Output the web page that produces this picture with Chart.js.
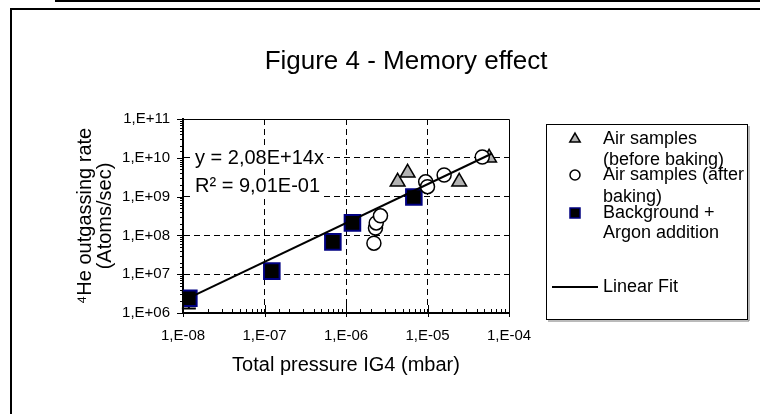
<!DOCTYPE html>
<html>
<head>
<meta charset="utf-8">
<script src="https://cdn.jsdelivr.net/npm/chart.js@4.4.0/dist/chart.umd.min.js"></script>
<style>
  body { margin: 0; background: #fff; }
  #wrap { width: 760px; height: 414px; }
</style>
</head>
<body>
<div id="wrap"><canvas id="myChart" width="760" height="414"></canvas></div>
<script>
// Valores (escala log en ambos ejes)
const chartTitle = 'Figure 4 - Memory effect';
const xTitle = 'Total pressure IG4 (mbar)';
const yTitle = ['\u2074He outgassing rate', '(Atoms/sec)'];

const airBeforeX = [4.3e-6, 5.7e-6, 2.45e-5, 5.7e-5];
const airBeforeY = [2.4e9, 4.1e9, 2.4e9, 1.0e10];

const airAfterX = [2.2e-6, 2.3e-6, 2.35e-6, 2.65e-6, 9.5e-6, 1.0e-5, 1.6e-5, 4.7e-5];
const airAfterY = [6.3e7, 1.55e8, 2.1e8, 3.2e8, 2.4e9, 1.8e9, 3.6e9, 1.05e10];

const bgX = [1.18e-8, 1.23e-7, 6.9e-7, 1.2e-6, 6.8e-6];
const bgY = [2.4e6, 1.2e7, 6.8e7, 2.1e8, 9.8e8];
const bgErrLow = [1.3e6, null, null, null, null];
const bgErrHigh = [3.5e6, null, null, null, null];

// Linea de ajuste: y = 2,08E+14x
const fitX = [1.2e-8, 6.2e-5];
const fitY = [2.5e6, 1.29e10];
const fitText = ['y = 2,08E+14x', 'R\u00b2 = 9,01E-01'];

const legendLabels = [
    ['Air samples', '(before baking)'],
    ['Air samples (after', 'baking)'],
    ['Background +', 'Argon addition'],
    ['Linear Fit']
];

const FONT = '"Liberation Sans", Arial, sans-serif';
Chart.defaults.font.family = FONT;
Chart.defaults.color = '#000';

function toPoints(xs, ys) {
    return xs.map((x, i) => ({ x: x, y: ys[i] }));
}

function isDecade(v) {
    const l = Math.log10(v);
    return Math.abs(l - Math.round(l)) < 1e-6;
}

function sciLabel(v) {
    const e = Math.round(Math.log10(v));
    return '1,E' + (e < 0 ? '-' : '+') + String(Math.abs(e)).padStart(2, '0');
}

function gridColor(ctx) {
    const scale = ctx.scale;
    const v = ctx.tick && ctx.tick.value;
    if (v === undefined || !isDecade(v)) return 'rgba(0,0,0,0)';
    if (Math.abs(v - scale.min) / scale.min < 1e-6 || Math.abs(v - scale.max) / scale.max < 1e-6) return 'rgba(0,0,0,0)';
    return '#000';
}

// dibuja un marcador pequeño para la leyenda
function drawMarker(ctx, style, x, y) {
    ctx.save();
    if (style === 'triangle') {
        const r = 6;
        ctx.beginPath();
        ctx.moveTo(x, y - r);
        ctx.lineTo(x + r * Math.sin(2 * Math.PI / 3), y + r / 2);
        ctx.lineTo(x - r * Math.sin(2 * Math.PI / 3), y + r / 2);
        ctx.closePath();
        ctx.fillStyle = '#b2b2b2';
        ctx.fill();
        ctx.lineWidth = 1.5;
        ctx.strokeStyle = '#000';
        ctx.stroke();
    } else if (style === 'circle') {
        ctx.beginPath();
        ctx.arc(x, y, 5, 0, Math.PI * 2);
        ctx.fillStyle = '#fff';
        ctx.fill();
        ctx.lineWidth = 1.5;
        ctx.strokeStyle = '#000';
        ctx.stroke();
    } else if (style === 'rect') {
        ctx.fillStyle = '#000';
        ctx.fillRect(x - 5, y - 5, 10, 10);
        ctx.lineWidth = 1.5;
        ctx.strokeStyle = '#000080';
        ctx.strokeRect(x - 5, y - 5, 10, 10);
    } else {
        ctx.beginPath();
        ctx.moveTo(x - 23, y);
        ctx.lineTo(x + 23, y);
        ctx.lineWidth = 2;
        ctx.strokeStyle = '#000';
        ctx.stroke();
    }
    ctx.restore();
}

const decorations = {
    id: 'decorations',
    beforeDraw(chart) {
        const ctx = chart.ctx;
        ctx.save();
        ctx.fillStyle = '#fff';
        ctx.fillRect(0, 0, chart.width, chart.height);
        ctx.strokeStyle = '#000';
        ctx.lineWidth = 2;
        ctx.beginPath();
        ctx.moveTo(55, 1);
        ctx.lineTo(760, 1);
        ctx.stroke();
        ctx.beginPath();
        ctx.moveTo(11, 414);
        ctx.lineTo(11, 9);
        ctx.lineTo(760, 9);
        ctx.stroke();
        // titulo
        ctx.fillStyle = '#000';
        ctx.font = '26px ' + FONT;
        ctx.textAlign = 'center';
        ctx.textBaseline = 'middle';
        ctx.fillText(chartTitle, 406, 62);
        ctx.restore();
    },
    beforeDatasetsDraw(chart) {
        // barras de error (quedan detras del cuadrado)
        const ctx = chart.ctx;
        const xs = chart.scales.x, ys = chart.scales.y;
        ctx.save();
        ctx.strokeStyle = '#000';
        ctx.lineWidth = 2;
        bgX.forEach((x, i) => {
            if (bgErrLow[i] === null) return;
            const px = xs.getPixelForValue(x);
            const lo = ys.getPixelForValue(bgErrLow[i]);
            const hi = ys.getPixelForValue(bgErrHigh[i]);
            ctx.beginPath();
            ctx.moveTo(px, lo); ctx.lineTo(px, hi);
            ctx.moveTo(px - 7, lo); ctx.lineTo(px + 7, lo);
            ctx.moveTo(px - 7, hi); ctx.lineTo(px + 7, hi);
            ctx.stroke();
        });
        ctx.restore();
    },
    afterDraw(chart) {
        const ctx = chart.ctx;
        const area = chart.chartArea;
        const xs = chart.scales.x, ys = chart.scales.y;
        ctx.save();
        // marco superior y derecho del area del grafico
        ctx.strokeStyle = '#000';
        ctx.lineWidth = 1;
        ctx.beginPath();
        ctx.moveTo(area.left, area.top + 0.5);
        ctx.lineTo(area.right + 0.5, area.top + 0.5);
        ctx.lineTo(area.right + 0.5, area.bottom);
        ctx.stroke();

        // marcas de los ejes
        ctx.lineWidth = 1;
        xs.ticks.forEach(t => {
            const px = Math.round(xs.getPixelForValue(t.value)) + 0.5;
            ctx.beginPath();
            if (isDecade(t.value)) {
                ctx.moveTo(px, area.bottom - 8); ctx.lineTo(px, area.bottom + 4);
            } else {
                ctx.moveTo(px, area.bottom - 4); ctx.lineTo(px, area.bottom);
            }
            ctx.stroke();
        });
        ys.ticks.forEach(t => {
            const py = Math.round(ys.getPixelForValue(t.value)) + 0.5;
            ctx.beginPath();
            if (isDecade(t.value)) {
                ctx.moveTo(area.left - 6, py); ctx.lineTo(area.left + 1, py);
            } else {
                ctx.moveTo(area.left - 3, py); ctx.lineTo(area.left, py);
            }
            ctx.stroke();
        });

        // ecuacion del ajuste
        ctx.font = '20px ' + FONT;
        ctx.textAlign = 'left';
        ctx.textBaseline = 'middle';
        [[fitText[0], 158], [fitText[1], 186]].forEach(([txt, y]) => {
            const w = ctx.measureText(txt).width;
            ctx.fillStyle = '#fff';
            ctx.fillRect(193, y - 11, w + 5, 22);
            ctx.fillStyle = '#000';
            ctx.fillText(txt, 195, y);
        });

        // leyenda
        ctx.fillStyle = '#fff';
        ctx.fillRect(546, 124, 202, 196);
        ctx.strokeStyle = '#000';
        ctx.lineWidth = 1;
        ctx.strokeRect(546.5, 124.5, 201, 195);
        ctx.strokeStyle = '#777';
        ctx.beginPath();
        ctx.moveTo(548, 321); ctx.lineTo(749, 321); ctx.lineTo(749, 126);
        ctx.stroke();

        const styles = ['triangle', 'circle', 'rect', 'line'];
        const lineYs = [[139, 160], [175, 197], [213, 233], [287]];
        ctx.font = '18px ' + FONT;
        ctx.fillStyle = '#000';
        legendLabels.forEach((lines, i) => {
            drawMarker(ctx, styles[i], 575, lineYs[i][0]);
            ctx.fillStyle = '#000';
            lines.forEach((l, j) => ctx.fillText(l, 603, lineYs[i][j]));
        });
        ctx.restore();
    }
};

const ctx = document.getElementById('myChart').getContext('2d');
const chart = new Chart(ctx, {
    type: 'scatter',
    data: {
        datasets: [
            {
                type: 'line',
                label: 'Linear Fit',
                data: toPoints(fitX, fitY),
                borderColor: '#000',
                borderWidth: 2,
                pointRadius: 0,
                fill: false,
                order: 0,
            },
            {
                label: 'Air samples (after baking)',
                data: toPoints(airAfterX, airAfterY),
                pointStyle: 'circle',
                pointRadius: 7,
                backgroundColor: '#fff',
                borderColor: '#000',
                borderWidth: 1.5,
                order: 1,
            },
            {
                label: 'Air samples (before baking)',
                data: toPoints(airBeforeX, airBeforeY),
                pointStyle: 'triangle',
                pointRadius: 8.5,
                backgroundColor: '#b2b2b2',
                borderColor: '#000',
                borderWidth: 1.5,
                order: 2,
            },
            {
                label: 'Background + Argon addition',
                data: toPoints(bgX, bgY),
                pointStyle: 'rect',
                pointRadius: 11,
                backgroundColor: '#000',
                borderColor: '#000080',
                borderWidth: 2,
                order: 3,
            },
        ],
    },
    options: {
        responsive: false,
        devicePixelRatio: 1,
        animation: false,
        events: [],
        layout: {
            padding: { left: 10, top: 119, right: 251, bottom: 0 },
        },
        plugins: {
            legend: { display: false },
            title: { display: false },
            tooltip: { enabled: false },
        },
        scales: {
            x: {
                type: 'logarithmic',
                min: 1e-8,
                max: 1e-4,
                afterFit: (scale) => { scale.height = 101; },
                border: { display: true, color: '#000', width: 2, dash: [6, 4] },
                grid: { color: gridColor, lineWidth: 1, drawTicks: false },
                ticks: {
                    autoSkip: false,
                    maxRotation: 0,
                    padding: 14,
                    font: { size: 15 },
                    callback: (value) => isDecade(value) ? sciLabel(value) : '',
                },
                title: {
                    display: true,
                    text: xTitle,
                    font: { size: 20, lineHeight: 1 },
                    padding: { top: 0, bottom: 39 },
                },
            },
            y: {
                type: 'logarithmic',
                min: 1e6,
                max: 1e11,
                afterFit: (scale) => { scale.width = 173; },
                border: { display: true, color: '#000', width: 2, dash: [6, 4] },
                grid: { color: gridColor, lineWidth: 1, drawTicks: false },
                ticks: {
                    autoSkip: false,
                    padding: 13,
                    font: { size: 15 },
                    callback: (value) => isDecade(value) ? sciLabel(value) : '',
                },
                title: {
                    display: true,
                    text: yTitle,
                    font: { size: 20, lineHeight: 1 },
                    padding: { top: 65, bottom: 0 },
                },
            },
        },
    },
    plugins: [decorations],
});
</script>
</body>
</html>
